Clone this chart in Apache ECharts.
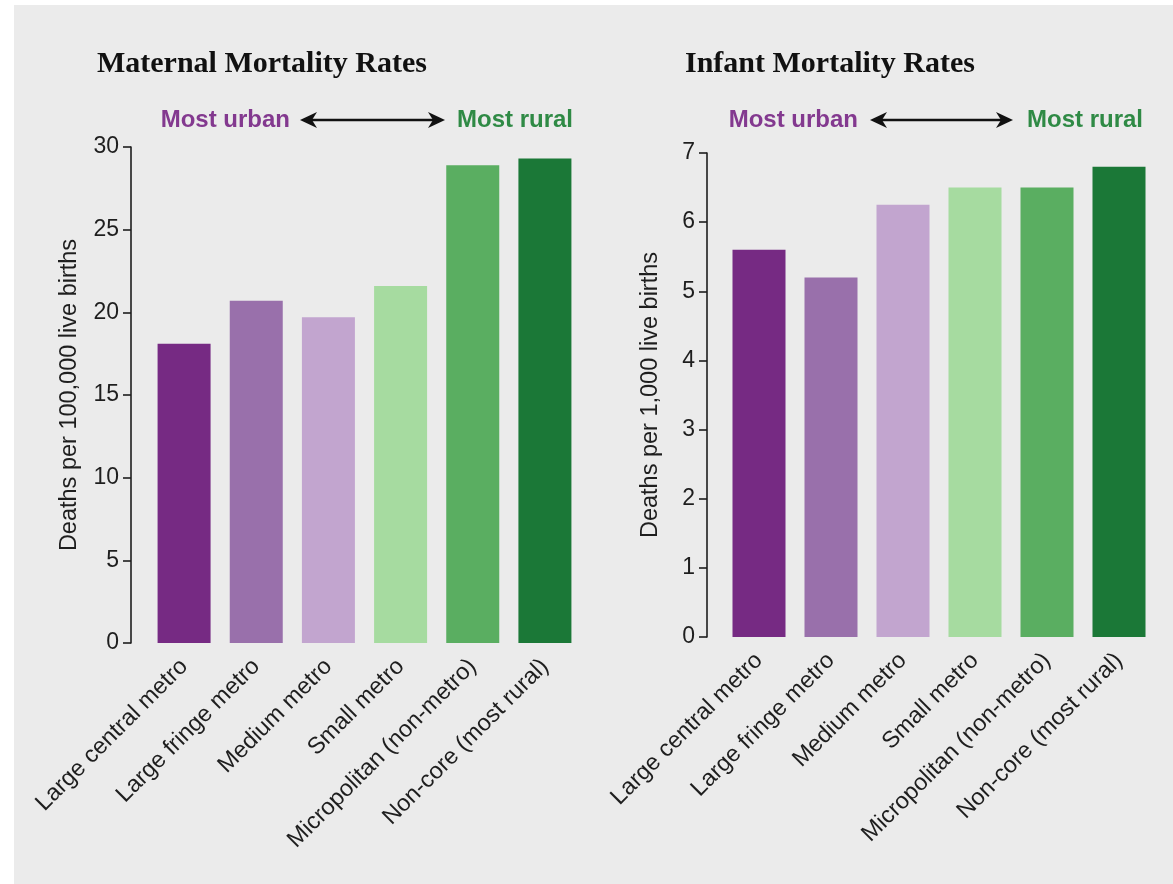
<!DOCTYPE html>
<html>
<head>
<meta charset="utf-8">
<script src="https://cdn.jsdelivr.net/npm/echarts@6/dist/echarts.min.js"></script>
<style>
  html, body { margin: 0; padding: 0; background: #ebebeb; }
  #chart { width: 1173px; height: 884px; }
</style>
</head>
<body>
<div id="chart"></div>
<script>
// Urban–rural classification categories (most urban to most rural)
const categories = [
  'Large central metro',
  'Large fringe metro',
  'Medium metro',
  'Small metro',
  'Micropolitan (non-metro)',
  'Non-core (most rural)'
];

// Maternal deaths per 100,000 live births
const maternalRates = [18.1, 20.7, 19.7, 21.6, 28.9, 29.3];

// Infant deaths per 1,000 live births
const infantRates = [5.6, 5.2, 6.25, 6.5, 6.5, 6.8];

// Purple-to-green ramp, one colour per category
const barColors = ['#762a83', '#9970ab', '#c2a5cf', '#a6dba0', '#5aae61', '#1b7837'];

const maternalTicks = [0, 5, 10, 15, 20, 25, 30];
const infantTicks = [0, 1, 2, 3, 4, 5, 6, 7];

const sans = 'Liberation Sans, Arial, sans-serif';
const serif = 'Liberation Serif, Times New Roman, serif';
const inkColor = '#1e1e1e';
const urbanColor = '#83398f';
const ruralColor = '#2f8a45';

function coloredData(values) {
  return values.map((v, i) => ({ value: v, itemStyle: { color: barColors[i] } }));
}

function valueAxis(gridIndex, ticks, name, offset, nameGap) {
  return {
    type: 'value',
    gridIndex: gridIndex,
    min: ticks[0],
    max: ticks[ticks.length - 1],
    interval: ticks[1] - ticks[0],
    offset: offset,
    name: name,
    nameLocation: 'middle',
    nameGap: nameGap,
    nameTextStyle: { fontFamily: sans, fontSize: 23.5, color: inkColor },
    axisLine: { show: true, lineStyle: { color: inkColor, width: 1.6 } },
    axisTick: { show: true, length: 8, lineStyle: { color: inkColor, width: 1.6 } },
    axisLabel: { fontFamily: sans, fontSize: 23, color: inkColor, margin: 12 },
    splitLine: { show: false }
  };
}

function categoryAxis(gridIndex) {
  return {
    type: 'category',
    gridIndex: gridIndex,
    data: categories,
    axisLine: { show: false },
    axisTick: { show: false },
    axisLabel: {
      interval: 0,
      rotate: 45,
      fontFamily: sans,
      fontSize: 23.5,
      color: inkColor,
      margin: 20
    }
  };
}

// Arrow annotation "Most urban <--> Most rural" above a panel
function directionArrow(x1, x2, y) {
  const head = 17, half = 8;
  return [
    { type: 'line', shape: { x1: x1 + 6, y1: y, x2: x2 - 6, y2: y },
      style: { stroke: '#111', lineWidth: 2.4 } },
    { type: 'polygon', shape: { points: [[x1, y], [x1 + head, y - half], [x1 + head - 5, y], [x1 + head, y + half]] },
      style: { fill: '#111' } },
    { type: 'polygon', shape: { points: [[x2, y], [x2 - head, y - half], [x2 - head + 5, y], [x2 - head, y + half]] },
      style: { fill: '#111' } }
  ];
}

function label(text, x, y, color, align) {
  return {
    type: 'text', x: x, y: y,
    style: { text: text, fill: color, font: 'bold 24px ' + sans, align: align, verticalAlign: 'middle' }
  };
}

const chart = echarts.init(document.getElementById('chart'), null, { renderer: 'canvas' });

chart.setOption({
  backgroundColor: '#ebebeb',
  animation: false,
  title: [
    { text: 'Maternal Mortality Rates', left: 92, top: 44,
      textStyle: { fontFamily: serif, fontWeight: 'bold', fontSize: 30, color: '#111' } },
    { text: 'Infant Mortality Rates', left: 680, top: 44,
      textStyle: { fontFamily: serif, fontWeight: 'bold', fontSize: 30, color: '#111' } }
  ],
  grid: [
    { left: 148, right: 592, top: 147, bottom: 241 },
    { left: 723, right: 18, top: 153, bottom: 247 }
  ],
  xAxis: [categoryAxis(0), categoryAxis(1)],
  yAxis: [
    valueAxis(0, maternalTicks, 'Deaths per 100,000 live births', 17, 49),
    valueAxis(1, infantTicks, 'Deaths per 1,000 live births', 16, 44)
  ],
  series: [
    { type: 'bar', xAxisIndex: 0, yAxisIndex: 0, data: coloredData(maternalRates), barWidth: 53 },
    { type: 'bar', xAxisIndex: 1, yAxisIndex: 1, data: coloredData(infantRates), barWidth: 53 }
  ],
  graphic: [
    // white page margin on the top and left
    { type: 'rect', shape: { x: 0, y: 0, width: 1173, height: 5 }, style: { fill: '#ffffff' }, z: 100 },
    { type: 'rect', shape: { x: 0, y: 0, width: 14, height: 884 }, style: { fill: '#ffffff' }, z: 100 },
    label('Most urban', 290, 120, urbanColor, 'right'),
    ...directionArrow(300, 445, 120),
    label('Most rural', 457, 120, ruralColor, 'left'),
    label('Most urban', 858, 120, urbanColor, 'right'),
    ...directionArrow(870, 1013, 120),
    label('Most rural', 1027, 120, ruralColor, 'left')
  ]
});
</script>
</body>
</html>
